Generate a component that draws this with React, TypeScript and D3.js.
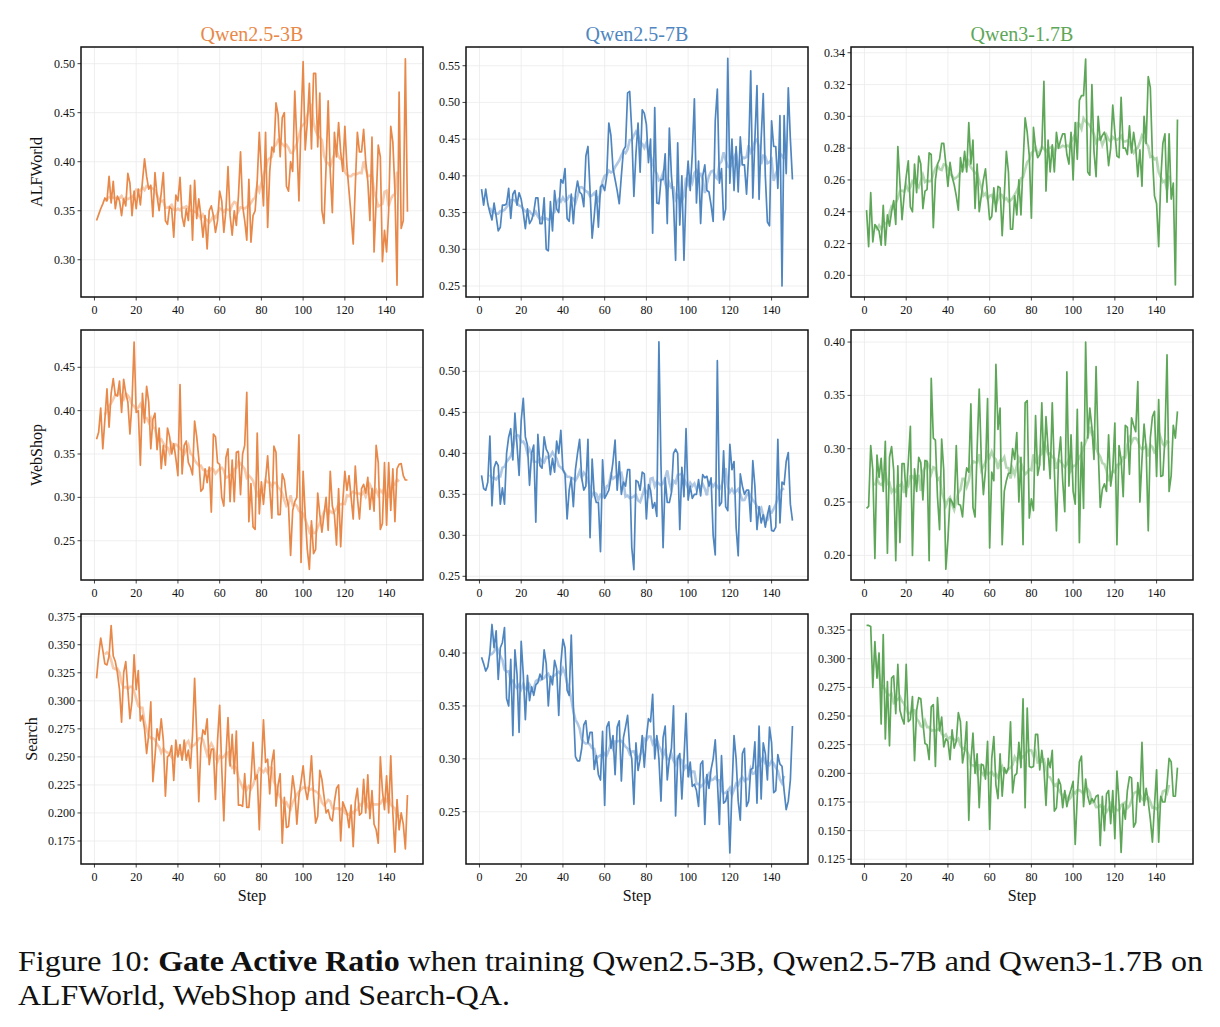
import React from 'react';
import * as d3 from 'd3';

// 150 training steps per run
const steps = d3.range(1, 151);

const models = ['Qwen2.5-3B', 'Qwen2.5-7B', 'Qwen3-1.7B'];
const envs = ['ALFWorld', 'WebShop', 'Search'];
const colors = ['#E8894A', '#4F86C0', '#5EA758'];

// ALFWorld
const alf3b = [
  0.340,0.346,0.352,0.357,0.363,0.360,0.385,0.358,0.380,0.352,
  0.365,0.360,0.345,0.362,0.355,0.388,0.378,0.345,0.370,0.352,
  0.372,0.356,0.380,0.403,0.385,0.372,0.376,0.344,0.389,0.365,
  0.350,0.368,0.389,0.340,0.336,0.354,0.352,0.323,0.366,0.360,
  0.384,0.344,0.334,0.352,0.340,0.376,0.320,0.381,0.342,0.362,
  0.345,0.323,0.345,0.311,0.350,0.355,0.345,0.328,0.340,0.370,
  0.360,0.328,0.350,0.395,0.345,0.325,0.350,0.335,0.365,0.410,
  0.355,0.340,0.320,0.382,0.318,0.345,0.350,0.380,0.430,0.390,
  0.355,0.430,0.333,0.390,0.415,0.410,0.460,0.448,0.405,0.445,
  0.450,0.375,0.370,0.400,0.390,0.472,0.420,0.360,0.440,0.502,
  0.412,0.440,0.480,0.413,0.490,0.490,0.415,0.470,0.350,0.337,
  0.395,0.462,0.390,0.348,0.430,0.405,0.440,0.410,0.390,0.436,
  0.395,0.370,0.345,0.316,0.375,0.430,0.410,0.410,0.433,0.400,
  0.380,0.340,0.425,0.308,0.360,0.417,0.405,0.298,0.330,0.308,
  0.350,0.436,0.420,0.370,0.274,0.471,0.332,0.340,0.505,0.349,
];
const alf7b = [
  0.382,0.360,0.382,0.362,0.350,0.340,0.363,0.345,0.325,0.330,
  0.360,0.360,0.362,0.383,0.342,0.375,0.380,0.360,0.377,0.368,
  0.350,0.328,0.355,0.335,0.340,0.350,0.370,0.370,0.335,0.335,
  0.370,0.300,0.298,0.365,0.325,0.380,0.355,0.350,0.395,0.390,
  0.410,0.342,0.338,0.375,0.335,0.375,0.393,0.378,0.375,0.358,
  0.427,0.440,0.380,0.315,0.345,0.380,0.330,0.385,0.388,0.380,
  0.400,0.472,0.455,0.410,0.395,0.380,0.362,0.400,0.435,0.440,
  0.513,0.515,0.460,0.372,0.430,0.472,0.405,0.490,0.485,0.470,
  0.418,0.450,0.322,0.493,0.363,0.362,0.395,0.395,0.430,0.335,
  0.465,0.400,0.365,0.285,0.445,0.333,0.400,0.285,0.380,0.420,
  0.380,0.430,0.505,0.363,0.420,0.335,0.400,0.415,0.380,0.378,
  0.360,0.338,0.475,0.518,0.390,0.410,0.340,0.355,0.560,0.390,
  0.450,0.380,0.440,0.378,0.453,0.415,0.415,0.375,0.430,0.543,
  0.370,0.450,0.523,0.368,0.450,0.512,0.400,0.337,0.332,0.475,
  0.440,0.440,0.383,0.482,0.250,0.482,0.403,0.520,0.450,0.395,
];
const alf17b = [
  0.241,0.218,0.252,0.221,0.232,0.230,0.228,0.219,0.244,0.219,
  0.238,0.231,0.240,0.247,0.232,0.281,0.258,0.235,0.250,0.262,
  0.272,0.243,0.240,0.270,0.252,0.275,0.270,0.242,0.253,0.254,
  0.277,0.276,0.230,0.260,0.270,0.273,0.283,0.283,0.270,0.256,
  0.271,0.262,0.257,0.250,0.241,0.274,0.265,0.278,0.265,0.296,
  0.270,0.285,0.242,0.270,0.240,0.250,0.260,0.267,0.250,0.235,
  0.237,0.255,0.240,0.256,0.255,0.225,0.250,0.278,0.265,0.229,
  0.229,0.250,0.238,0.260,0.238,0.270,0.299,0.290,0.275,0.236,
  0.293,0.280,0.274,0.276,0.280,0.322,0.253,0.285,0.265,0.282,
  0.265,0.290,0.280,0.285,0.289,0.289,0.276,0.270,0.290,0.260,
  0.296,0.273,0.310,0.313,0.313,0.336,0.265,0.263,0.320,0.278,
  0.262,0.300,0.285,0.288,0.290,0.285,0.269,0.280,0.307,0.290,
  0.275,0.274,0.312,0.280,0.280,0.276,0.294,0.277,0.290,0.280,
  0.262,0.279,0.256,0.300,0.283,0.325,0.318,0.275,0.250,0.245,
  0.218,0.260,0.283,0.289,0.246,0.289,0.248,0.258,0.194,0.298,
];

// WebShop
const web3b = [
  0.367,0.375,0.403,0.356,0.390,0.425,0.381,0.420,0.437,0.418,
  0.417,0.434,0.398,0.436,0.420,0.410,0.373,0.410,0.479,0.398,
  0.400,0.337,0.420,0.386,0.428,0.410,0.356,0.390,0.397,0.355,
  0.380,0.333,0.360,0.337,0.380,0.370,0.350,0.362,0.345,0.325,
  0.430,0.327,0.360,0.365,0.340,0.335,0.326,0.388,0.370,0.345,
  0.307,0.310,0.333,0.317,0.335,0.283,0.373,0.370,0.340,0.338,
  0.300,0.290,0.346,0.356,0.295,0.343,0.295,0.352,0.353,0.303,
  0.350,0.360,0.421,0.272,0.316,0.266,0.263,0.374,0.281,0.318,
  0.292,0.320,0.348,0.310,0.276,0.359,0.352,0.280,0.280,0.327,
  0.320,0.300,0.290,0.233,0.285,0.295,0.300,0.372,0.225,0.330,
  0.280,0.240,0.217,0.273,0.235,0.240,0.305,0.280,0.260,0.280,
  0.300,0.262,0.330,0.290,0.280,0.245,0.310,0.243,0.295,0.330,
  0.308,0.325,0.300,0.275,0.336,0.300,0.275,0.310,0.315,0.305,
  0.323,0.286,0.310,0.284,0.360,0.340,0.263,0.270,0.340,0.268,
  0.340,0.285,0.333,0.272,0.333,0.338,0.339,0.325,0.320,0.320,
];
const web7b = [
  0.373,0.357,0.355,0.365,0.421,0.336,0.382,0.390,0.385,0.338,
  0.358,0.338,0.400,0.420,0.430,0.392,0.449,0.410,0.373,0.440,
  0.467,0.420,0.410,0.361,0.400,0.410,0.316,0.423,0.385,0.382,
  0.420,0.405,0.400,0.374,0.394,0.377,0.415,0.400,0.428,0.380,
  0.375,0.320,0.355,0.370,0.335,0.380,0.400,0.417,0.370,0.355,
  0.360,0.417,0.297,0.393,0.350,0.340,0.340,0.280,0.392,0.345,
  0.350,0.355,0.370,0.390,0.416,0.355,0.390,0.350,0.365,0.360,
  0.380,0.380,0.285,0.258,0.367,0.365,0.355,0.377,0.375,0.320,
  0.362,0.355,0.333,0.340,0.323,0.536,0.385,0.285,0.370,0.340,
  0.340,0.352,0.400,0.405,0.400,0.307,0.383,0.347,0.430,0.343,
  0.360,0.345,0.350,0.350,0.368,0.348,0.374,0.370,0.372,0.360,
  0.370,0.300,0.276,0.513,0.336,0.340,0.403,0.335,0.330,0.411,
  0.380,0.390,0.310,0.275,0.375,0.360,0.350,0.355,0.355,0.317,
  0.391,0.360,0.307,0.335,0.315,0.325,0.310,0.325,0.336,0.306,
  0.305,0.310,0.417,0.315,0.365,0.362,0.390,0.401,0.338,0.318,
];
const web17b = [
  0.244,0.246,0.303,0.280,0.197,0.294,0.273,0.291,0.260,0.307,
  0.202,0.292,0.302,0.280,0.195,0.284,0.212,0.286,0.286,0.255,
  0.287,0.321,0.200,0.281,0.260,0.292,0.287,0.252,0.289,0.288,
  0.195,0.366,0.310,0.308,0.255,0.224,0.309,0.280,0.187,0.215,
  0.253,0.250,0.245,0.303,0.248,0.247,0.236,0.265,0.282,0.278,
  0.342,0.245,0.236,0.300,0.356,0.290,0.257,0.280,0.347,0.207,
  0.278,0.270,0.379,0.318,0.338,0.210,0.260,0.270,0.277,0.277,
  0.300,0.290,0.315,0.250,0.292,0.210,0.343,0.345,0.235,0.253,
  0.242,0.331,0.275,0.285,0.343,0.280,0.330,0.300,0.272,0.343,
  0.280,0.223,0.290,0.311,0.270,0.241,0.372,0.265,0.313,0.260,
  0.248,0.337,0.212,0.306,0.244,0.400,0.310,0.338,0.320,0.290,
  0.377,0.300,0.245,0.262,0.267,0.260,0.313,0.265,0.280,0.324,
  0.210,0.303,0.290,0.255,0.322,0.320,0.276,0.329,0.322,0.316,
  0.363,0.250,0.290,0.323,0.300,0.223,0.310,0.330,0.335,0.274,
  0.346,0.274,0.275,0.310,0.388,0.260,0.275,0.322,0.310,0.335,
];

// Search-QA
const search3b = [
  0.320,0.340,0.356,0.345,0.333,0.332,0.340,0.367,0.340,0.335,
  0.325,0.310,0.281,0.325,0.335,0.310,0.284,0.300,0.341,0.310,
  0.327,0.282,0.287,0.275,0.253,0.270,0.299,0.228,0.250,0.275,
  0.265,0.284,0.265,0.215,0.250,0.252,0.260,0.229,0.265,0.250,
  0.261,0.247,0.265,0.247,0.256,0.240,0.270,0.320,0.270,0.210,
  0.260,0.274,0.270,0.284,0.243,0.257,0.257,0.212,0.265,0.296,
  0.240,0.193,0.250,0.285,0.242,0.270,0.235,0.273,0.207,0.207,
  0.206,0.235,0.205,0.205,0.230,0.263,0.230,0.234,0.185,0.240,
  0.283,0.245,0.248,0.217,0.245,0.256,0.206,0.225,0.235,0.173,
  0.214,0.187,0.188,0.210,0.233,0.220,0.190,0.215,0.228,0.242,
  0.222,0.212,0.225,0.251,0.215,0.191,0.197,0.238,0.230,0.215,
  0.200,0.203,0.195,0.193,0.210,0.222,0.225,0.175,0.210,0.205,
  0.200,0.187,0.207,0.170,0.210,0.222,0.198,0.200,0.230,0.200,
  0.234,0.195,0.220,0.190,0.185,0.173,0.250,0.220,0.203,0.233,
  0.200,0.251,0.200,0.165,0.212,0.185,0.200,0.190,0.168,0.216,
];
const search7b = [
  0.396,0.390,0.383,0.387,0.400,0.427,0.405,0.421,0.375,0.405,
  0.410,0.424,0.357,0.350,0.394,0.322,0.403,0.380,0.325,0.411,
  0.380,0.337,0.379,0.355,0.368,0.360,0.370,0.372,0.380,0.375,
  0.403,0.390,0.350,0.378,0.370,0.393,0.385,0.341,0.390,0.413,
  0.405,0.365,0.360,0.417,0.350,0.302,0.298,0.298,0.310,0.332,
  0.336,0.315,0.325,0.325,0.290,0.303,0.285,0.280,0.326,0.256,
  0.330,0.335,0.310,0.322,0.285,0.330,0.336,0.279,0.320,0.330,
  0.341,0.310,0.300,0.257,0.315,0.289,0.300,0.322,0.292,0.320,
  0.338,0.335,0.361,0.300,0.322,0.300,0.260,0.320,0.331,0.280,
  0.300,0.310,0.350,0.246,0.300,0.305,0.262,0.300,0.343,0.283,
  0.297,0.274,0.276,0.270,0.255,0.295,0.298,0.238,0.285,0.272,
  0.290,0.300,0.318,0.280,0.238,0.303,0.258,0.260,0.269,0.211,
  0.270,0.322,0.300,0.260,0.242,0.305,0.310,0.255,0.260,0.290,
  0.291,0.316,0.258,0.331,0.262,0.315,0.305,0.280,0.330,0.315,
  0.268,0.270,0.304,0.295,0.293,0.270,0.252,0.260,0.280,0.331,
];
const search17b = [
  0.329,0.329,0.328,0.275,0.315,0.283,0.305,0.243,0.321,0.230,
  0.280,0.224,0.283,0.285,0.252,0.295,0.255,0.248,0.243,0.295,
  0.245,0.247,0.267,0.211,0.255,0.266,0.265,0.245,0.226,0.225,
  0.212,0.258,0.260,0.206,0.266,0.237,0.249,0.223,0.230,0.228,
  0.212,0.238,0.222,0.228,0.253,0.245,0.209,0.220,0.245,0.159,
  0.210,0.235,0.200,0.217,0.170,0.208,0.207,0.195,0.228,0.151,
  0.213,0.232,0.190,0.178,0.217,0.180,0.205,0.200,0.205,0.245,
  0.183,0.198,0.200,0.227,0.205,0.265,0.170,0.257,0.206,0.205,
  0.206,0.234,0.234,0.203,0.220,0.205,0.172,0.213,0.205,0.220,
  0.167,0.170,0.195,0.190,0.170,0.185,0.171,0.180,0.186,0.193,
  0.138,0.180,0.210,0.215,0.171,0.195,0.180,0.173,0.178,0.175,
  0.180,0.181,0.137,0.180,0.150,0.182,0.185,0.156,0.185,0.143,
  0.202,0.175,0.131,0.173,0.160,0.185,0.197,0.196,0.153,0.157,
  0.192,0.175,0.227,0.172,0.187,0.175,0.160,0.140,0.172,0.203,
  0.140,0.180,0.175,0.175,0.190,0.213,0.210,0.180,0.180,0.205,
];

const series = [
  [alf3b, alf7b, alf17b],
  [web3b, web7b, web17b],
  [search3b, search7b, search17b],
];

// y ranges shown and tick labels per panel
const yDomains = [
  [[0.262, 0.517], [0.235, 0.5755], [0.1864, 0.3436]],
  [[0.2047, 0.493], [0.2455, 0.5504], [0.1769, 0.4113]],
  [[0.1545, 0.3774], [0.2006, 0.4369], [0.1209, 0.339]],
];
const yTicks = [
  [[0.30, 0.35, 0.40, 0.45, 0.50], [0.25, 0.30, 0.35, 0.40, 0.45, 0.50, 0.55], [0.20, 0.22, 0.24, 0.26, 0.28, 0.30, 0.32, 0.34]],
  [[0.25, 0.30, 0.35, 0.40, 0.45], [0.25, 0.30, 0.35, 0.40, 0.45, 0.50], [0.20, 0.25, 0.30, 0.35, 0.40]],
  [[0.175, 0.2, 0.225, 0.25, 0.275, 0.3, 0.325, 0.35, 0.375], [0.25, 0.30, 0.35, 0.40], [0.125, 0.15, 0.175, 0.2, 0.225, 0.25, 0.275, 0.3, 0.325]],
];
const yFormats = [['.2f', '.2f', '.2f'], ['.2f', '.2f', '.2f'], ['.3f', '.2f', '.3f']];
const xTicks = [0, 20, 40, 60, 80, 100, 120, 140];

const colLeft = [81, 466, 851];
const rowTop = [47, 330, 614];
const W = 342, H = 250;
const FONT = '"Liberation Serif", "Times New Roman", serif';

// centred rolling mean, as in the original plot
function rolling(v: number[], w = 9) {
  const h = Math.floor(w / 2);
  return v.map((_, i) => (i < h || i >= v.length - h ? null : d3.mean(v.slice(i - h, i + h + 1)) as number));
}

function Panel({ r, c }: { r: number; c: number }) {
  const x0 = colLeft[c], y0 = rowTop[r];
  const x = d3.scaleLinear().domain([-6.45, 157.45]).range([x0, x0 + W]);
  const y = d3.scaleLinear().domain(yDomains[r][c]).range([y0 + H, y0]);
  const vals = series[r][c];
  const sm = rolling(vals);
  const line = d3.line<number>().x((_, i) => x(steps[i])).y(d => y(d));
  const smLine = d3.line<number | null>().defined(d => d != null).x((_, i) => x(steps[i])).y(d => y(d as number));
  const fmt = d3.format(yFormats[r][c]);
  const col = colors[c];
  return (
    <g>
      <g stroke="#ebebeb" strokeWidth={0.8}>
        {xTicks.map(t => <line key={'gx' + t} x1={x(t)} x2={x(t)} y1={y0} y2={y0 + H} />)}
        {yTicks[r][c].map(t => <line key={'gy' + t} x1={x0} x2={x0 + W} y1={y(t)} y2={y(t)} />)}
      </g>
      <path d={smLine(sm) || ''} fill="none" stroke={col} strokeOpacity={0.45} strokeWidth={2.6} />
      <path d={line(vals) || ''} fill="none" stroke={col} strokeWidth={1.7} strokeLinejoin="round" />
      <rect x={x0} y={y0} width={W} height={H} fill="none" stroke="#111" strokeWidth={1.5} />
      <g fontFamily={FONT} fontSize={12} fill="#111">
        {xTicks.map(t => (
          <g key={'xt' + t}>
            <line x1={x(t)} x2={x(t)} y1={y0 + H} y2={y0 + H + 3.5} stroke="#111" strokeWidth={0.8} />
            <text x={x(t)} y={y0 + H + 17} textAnchor="middle">{t}</text>
          </g>
        ))}
        {yTicks[r][c].map(t => (
          <g key={'yt' + t}>
            <line x1={x0 - 3.5} x2={x0} y1={y(t)} y2={y(t)} stroke="#111" strokeWidth={0.8} />
            <text x={x0 - 6} y={y(t) + 4} textAnchor="end">{fmt(t)}</text>
          </g>
        ))}
      </g>
      {r === 0 && (
        <text x={x0 + W / 2} y={41} textAnchor="middle" fontFamily={FONT} fontSize={20} fill={col}>{models[c]}</text>
      )}
      {r === 2 && (
        <text x={x0 + W / 2} y={y0 + H + 37} textAnchor="middle" fontFamily={FONT} fontSize={16} fill="#111">Step</text>
      )}
      {c === 0 && (
        <text transform={`translate(${r === 2 ? 37 : 42},${y0 + H / 2}) rotate(-90)`} textAnchor="middle"
          fontFamily={FONT} fontSize={16} fill="#111">{envs[r]}</text>
      )}
    </g>
  );
}

export default function App() {
  return (
    <svg width={1220} height={1027} style={{ position: 'absolute', left: 0, top: 0, background: '#fff' }}>
      <rect width={1220} height={1027} fill="#fff" />
      {[0, 1, 2].map(r => [0, 1, 2].map(c => <Panel key={r + '-' + c} r={r} c={c} />))}
      <g fontFamily={FONT} fontSize={30} fill="#111">
        <text x={18} y={971} textLength={1185} lengthAdjust="spacingAndGlyphs">
          Figure 10: <tspan fontWeight="bold">Gate Active Ratio</tspan> when training Qwen2.5-3B, Qwen2.5-7B and Qwen3-1.7B on
        </text>
        <text x={18} y={1005} textLength={492} lengthAdjust="spacingAndGlyphs">ALFWorld, WebShop and Search-QA.</text>
      </g>
    </svg>
  );
}
